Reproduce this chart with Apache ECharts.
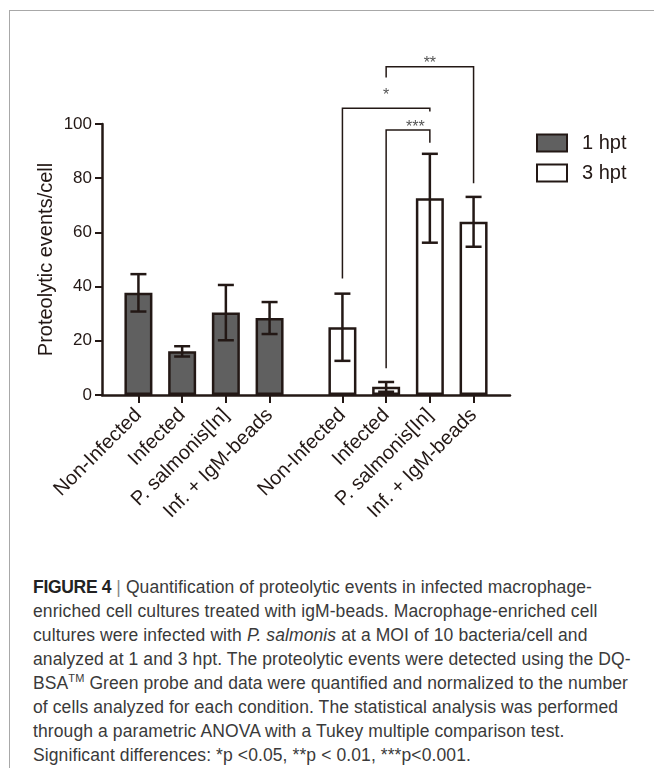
<!DOCTYPE html>
<html>
<head>
<meta charset="utf-8">
<script src="https://cdn.jsdelivr.net/npm/echarts@6/dist/echarts.min.js"></script>
<style>
  html, body { margin: 0; padding: 0; width: 654px; height: 768px; overflow: hidden; background: #fff; }
  #frame { position: absolute; left: 9px; top: 10px; width: 700px; height: 800px;
           border-left: 1.5px solid #a8a8a8; border-top: 1.5px solid #a8a8a8; }
  #chart { position: absolute; left: 0; top: 0; width: 654px; height: 560px; }
  #caption { position: absolute; left: 33px; top: 575px; width: 620px;
             font-family: "Liberation Sans", Arial, sans-serif; font-size: 17.5px; letter-spacing: 0.1px;
             line-height: 24px; color: #3a3a3a; white-space: nowrap; }
  #caption b { color: #222; letter-spacing: -0.3px; }
  #caption .sep { color: #888; }
  #caption sup { font-size: 11px; line-height: 0; }
</style>
</head>
<body>
<div id="frame"></div>
<div id="chart"></div>
<div id="caption">
<b>FIGURE 4</b> <span class="sep">|</span> Quantification of proteolytic events in infected macrophage-<br>
enriched cell cultures treated with igM-beads. Macrophage-enriched cell<br>
cultures were infected with <i>P. salmonis</i> at a MOI of 10 bacteria/cell and<br>
analyzed at 1 and 3 hpt. The proteolytic events were detected using the DQ-<br>
BSA<sup>TM</sup> Green probe and data were quantified and normalized to the number<br>
of cells analyzed for each condition. The statistical analysis was performed<br>
through a parametric ANOVA with a Tukey multiple comparison test.<br>
Significant differences: *p &lt;0.05, **p &lt; 0.01, ***p&lt;0.001.
</div>
<script>
// ---- data ----
const categories = ['Non-Infected', 'Infected', 'P. salmonis[In]', 'Inf. + IgM-beads'];
const groupNames = ['1 hpt', '3 hpt'];
const means1 = [37.7, 16.1, 30.4, 28.4];
const sd1 = [6.9, 1.9, 10.2, 5.9];
const means3 = [25.0, 3.0, 72.6, 63.9];
const sd3 = [12.4, 1.8, 16.4, 9.2];
const yTicks = [0, 20, 40, 60, 80, 100];
// significance brackets (within 3 hpt group)
const bracketFrom = [0, 1, 1];
const bracketTo = [2, 2, 3];
const bracketLabels = ['*', '***', '**'];
const bracketY = [105.8, 97.8, 121.1];
const bracketLeftEnd = [43.0, 9.9, 117.2];
const bracketRightEnd = [104.6, 93.1, 78.1];
const bracketLabelY = [110.4, 98.6, 122.4];

// ---- layout of category slots (blank slots create spacing) ----
const PAD = 2, STEP = 3, GROUP = 14, NSLOT = 28;
const slotOf = (g, i) => PAD + g * GROUP + i * STEP;
const axisCats = new Array(NSLOT).fill('');
const ser = [new Array(NSLOT).fill(null), new Array(NSLOT).fill(null)];
const errData = [];
[means1, means3].forEach((m, g) => {
  const sds = g === 0 ? sd1 : sd3;
  m.forEach((v, i) => {
    const s = slotOf(g, i);
    axisCats[s] = categories[i];
    ser[g][s] = v;
    errData.push([s, v, sds[i]]);
  });
});
const bracketData = bracketFrom.map((f, k) => [slotOf(1, f), slotOf(1, bracketTo[k]), bracketY[k],
  bracketLeftEnd[k], bracketRightEnd[k], bracketLabelY[k], k]);

const INK = '#231815';
const FONT = '"Liberation Sans", Arial, sans-serif';

function renderErr(params, api) {
  const x = api.value(0), m = api.value(1), s = api.value(2);
  const t = api.coord([x, m + s]), b = api.coord([x, m - s]);
  const h = 8;
  const st = { stroke: INK, lineWidth: 2.5 };
  return { type: 'group', children: [
    { type: 'line', shape: { x1: t[0], y1: t[1], x2: b[0], y2: b[1] }, style: st },
    { type: 'line', shape: { x1: t[0] - h, y1: t[1], x2: t[0] + h, y2: t[1] }, style: st },
    { type: 'line', shape: { x1: b[0] - h, y1: b[1], x2: b[0] + h, y2: b[1] }, style: st }
  ]};
}

function renderBracket(params, api) {
  const x1 = api.value(0), x2 = api.value(1), y = api.value(2);
  const le = api.value(3), re = api.value(4), ly = api.value(5);
  const k = api.value(6);
  const pL = api.coord([x1, y]), pR = api.coord([x2, y]);
  const pLe = api.coord([x1, le]), pRe = api.coord([x2, re]);
  const pLab = api.coord([(x1 + x2) / 2, ly]);
  return { type: 'group', children: [
    { type: 'polyline', shape: { points: [pLe, pL, pR, pRe] },
      style: { stroke: INK, lineWidth: 1.5, fill: null } },
    { type: 'text', x: pLab[0], y: pLab[1],
      style: { text: bracketLabels[k], fill: '#555', font: '16px ' + FONT,
               align: 'center', verticalAlign: 'middle' } }
  ]};
}

const chart = echarts.init(document.getElementById('chart'), null, { renderer: 'canvas' });
const labelShow = (idx, val) => val !== '';
chart.setOption({
  animation: false,
  textStyle: { fontFamily: FONT },
  grid: { left: 102, right: 144, top: 124, height: 271 },
  legend: {
    orient: 'vertical', left: 536, top: 133, padding: 0, itemGap: 10,
    itemWidth: 30, itemHeight: 17, icon: 'rect',
    textStyle: { fontSize: 20, color: INK, padding: [0, 0, 0, 10], fontFamily: FONT },
    data: groupNames
  },
  xAxis: {
    type: 'category', data: axisCats,
    axisLine: { lineStyle: { color: INK, width: 2.5 } },
    axisTick: { show: true, interval: labelShow, alignWithLabel: true, length: 8,
                lineStyle: { color: INK, width: 2 } },
    axisLabel: { interval: labelShow, rotate: 45, margin: 17, fontSize: 20, color: INK, fontFamily: FONT }
  },
  yAxis: {
    type: 'value', min: yTicks[0], max: yTicks[yTicks.length - 1], interval: yTicks[1] - yTicks[0],
    name: 'Proteolytic events/cell', nameLocation: 'middle', nameGap: 46, nameMoveOverlap: false,
    nameTextStyle: { fontSize: 20, color: INK, fontFamily: FONT },
    splitLine: { show: false },
    axisLine: { show: true, lineStyle: { color: INK, width: 2.5 } },
    axisTick: { show: true, length: 7, lineStyle: { color: INK, width: 2 } },
    axisLabel: { fontSize: 17, color: INK, margin: 10, fontFamily: FONT }
  },
  series: [
    { name: groupNames[0], type: 'bar', data: ser[0], barWidth: 28, barGap: '-100%',
      itemStyle: { color: '#606060', borderColor: INK, borderWidth: 2.5 } },
    { name: groupNames[1], type: 'bar', data: ser[1], barWidth: 28, barGap: '-100%',
      itemStyle: { color: '#ffffff', borderColor: INK, borderWidth: 2.5 } },
    { type: 'custom', data: errData, renderItem: renderErr, encode: { x: 0, y: 1 }, z: 5, clip: false },
    { type: 'custom', data: bracketData, renderItem: renderBracket, encode: { x: 0, y: 2 }, z: 6, clip: false }
  ]
});
</script>
</body>
</html>
